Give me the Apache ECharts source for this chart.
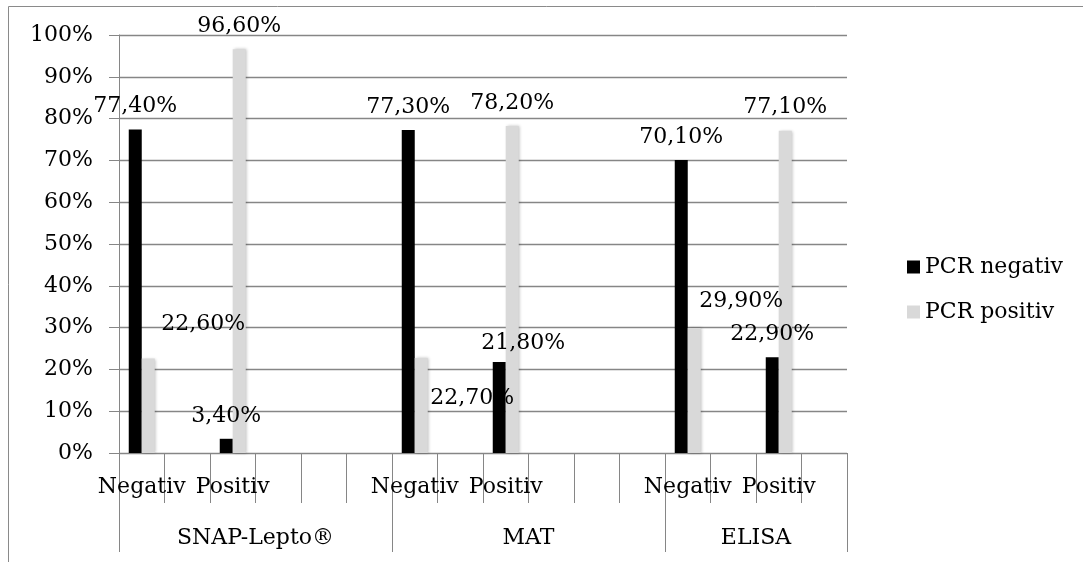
<!DOCTYPE html>
<html>
<head>
<meta charset="utf-8">
<script src="https://cdn.jsdelivr.net/npm/echarts@6/dist/echarts.min.js"></script>
<style>html,body{margin:0;padding:0;background:#fff}#c{width:1083px;height:562px}</style>
</head>
<body>
<div id="c"></div>
<script>
// Inner categories (unlabelled slots were hidden in the original)
const categories = ['Negativ','','Positiv','','','','Negativ','','Positiv','','','','Negativ','','Positiv',''];
// Group labels placed on the 17 category boundaries
const groupBoundaries = ['','','','SNAP-Lepto®','','','','','','MAT','','','','','ELISA','',''];
const groupTickAt = [0, 6, 12, 16];
const seriesNames = ['PCR negativ','PCR positiv'];
const pcrNegativ = [77.4,null,3.4,null,null,null,77.3,null,21.8,null,null,null,70.1,null,22.9,null];
const pcrPositiv = [22.6,null,96.6,null,null,null,22.7,null,78.2,null,null,null,29.9,null,77.1,null];
const yTicks = [0,10,20,30,40,50,60,70,80,90,100];

const FONT = 'DejaVu Serif';
const GRID = '#868686';
// manual label displacement (as in the original chart), keyed by series and category index
const labelShift = {
  'PCR positiv': {0:[55,-11], 6:[51,63], 12:[47,-4]},
  'PCR negativ': {8:[24,4]}
};
function fmt(v){ return v.toFixed(2).replace('.', ',') + '%'; }
function build(name, vals){
  return vals.map((v,i)=>{
    if (v === null) return null;
    const s = labelShift[name][i];
    return s ? {value:v, label:{offset:s}} : v;
  });
}

const chart = echarts.init(document.getElementById('c'));
chart.setOption({
  animation:false,
  backgroundColor:'#fff',
  textStyle:{fontFamily:FONT},
  graphic:[{type:'rect', shape:{x:8.5,y:6.5,width:1200,height:700}, style:{fill:'none', stroke:'#8a8a8a', lineWidth:1}}],
  grid:{left:119, right:236, top:35, bottom:109, containLabel:false},
  legend:{
    orient:'vertical', left:902, top:251, itemWidth:13, itemHeight:13, itemGap:23,
    icon:'rect', textStyle:{fontFamily:FONT, fontSize:22, color:'#000'},
    data:seriesNames
  },
  xAxis:[{
    type:'category', data:categories, boundaryGap:true,
    axisLine:{show:true, lineStyle:{color:GRID}},
    axisTick:{show:true, length:50, interval:0, lineStyle:{color:GRID}},
    axisLabel:{interval:0, margin:23, fontFamily:FONT, fontSize:22, color:'#000', hideOverlap:false}
  },{
    type:'category', data:groupBoundaries, boundaryGap:false, position:'bottom',
    axisLine:{show:false},
    axisTick:{show:true, length:99, interval:(i)=>groupTickAt.indexOf(i)>=0, lineStyle:{color:GRID}},
    axisLabel:{interval:(i,v)=>v!=='', margin:74, fontFamily:FONT, fontSize:22, color:'#000'}
  }],
  yAxis:{
    type:'value', min:yTicks[0], max:yTicks[yTicks.length-1], interval:10,
    axisLine:{show:true, lineStyle:{color:GRID}},
    axisTick:{show:true, length:10, lineStyle:{color:GRID}},
    splitLine:{show:true, lineStyle:{color:GRID, width:1.3}},
    axisLabel:{formatter:'{value}%', margin:26, fontFamily:FONT, fontSize:22, color:'#000'}
  },
  series:[{
    name:seriesNames[0], type:'bar', xAxisIndex:0, data:build(seriesNames[0], pcrNegativ),
    barWidth:13, barGap:'0%', itemStyle:{color:'#000'},
    label:{show:true, position:'top', distance:12, formatter:p=>fmt(p.value), fontFamily:FONT, fontSize:22, color:'#000'}
  },{
    name:seriesNames[1], type:'bar', xAxisIndex:0, data:build(seriesNames[1], pcrPositiv),
    barWidth:13, barGap:'0%', itemStyle:{color:'#d9d9d9', shadowBlur:3, shadowColor:'rgba(0,0,0,0.25)', shadowOffsetX:1},
    label:{show:true, position:'top', distance:12, formatter:p=>fmt(p.value), fontFamily:FONT, fontSize:22, color:'#000'}
  }]
});
</script>
</body>
</html>
